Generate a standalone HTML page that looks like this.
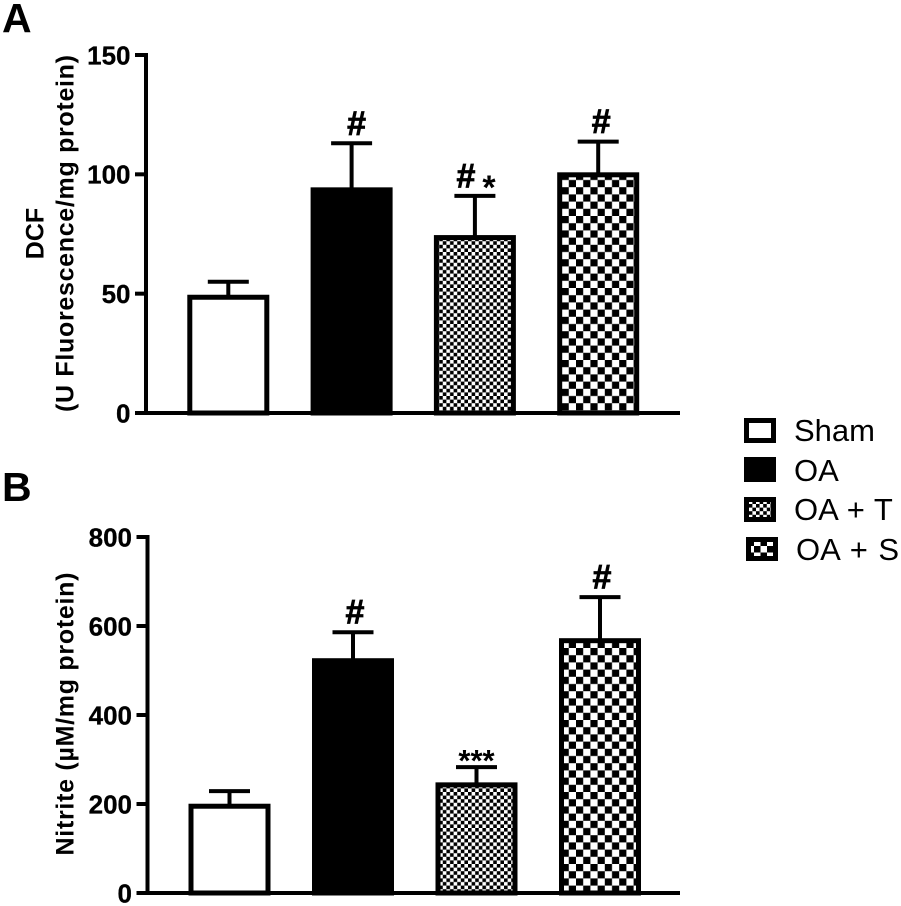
<!DOCTYPE html>
<html>
<head>
<meta charset="utf-8">
<style>
html,body{margin:0;padding:0;background:#fff;}
svg{display:block;}
text{font-family:"Liberation Sans",sans-serif;fill:#000;}
</style>
</head>
<body>
<svg id="figure" xmlns="http://www.w3.org/2000/svg" width="901" height="906" viewBox="0 0 901 906">
  <defs>
    <pattern id="fine" patternUnits="userSpaceOnUse" width="7.2" height="7.2">
      <rect width="7.2" height="7.2" fill="#fff"/>
      <rect width="3.6" height="3.6" fill="#000"/>
      <rect x="3.6" y="3.6" width="3.6" height="3.6" fill="#000"/>
    </pattern>
    <pattern id="coarse" patternUnits="userSpaceOnUse" width="14.4" height="14.4">
      <rect width="14.4" height="14.4" fill="#fff"/>
      <rect width="7.2" height="7.2" fill="#000"/>
      <rect x="7.2" y="7.2" width="7.2" height="7.2" fill="#000"/>
    </pattern>
    <pattern id="legend-coarse" patternUnits="userSpaceOnUse" width="13" height="13">
      <rect width="13" height="13" fill="#fff"/>
      <rect width="6.5" height="6.5" fill="#000"/>
      <rect x="6.5" y="6.5" width="6.5" height="6.5" fill="#000"/>
    </pattern>
  </defs>
  <g id="chart-a"></g>
  <g id="chart-b"></g>

  <text x="2" y="32" font-size="41" font-weight="bold">A</text>
  <text x="2" y="501" font-size="41" font-weight="bold">B</text>

  <text transform="translate(43.3,233.5) rotate(-90)" font-size="25" font-weight="bold" text-anchor="middle">DCF</text>
  <text transform="translate(73.3,233.5) rotate(-90)" font-size="25" font-weight="bold" text-anchor="middle" textLength="357" lengthAdjust="spacing">(U Fluorescence/mg protein)</text>
  <text transform="translate(73.3,714) rotate(-90)" font-size="25" font-weight="bold" text-anchor="middle" textLength="283" lengthAdjust="spacing">Nitrite (µM/mg protein)</text>

  <g>
    <g>
      <rect x="746.5" y="420.5" width="27" height="20" fill="#fff" stroke="#000" stroke-width="5"/>
      <text x="794" y="441" font-size="31">Sham</text>
    </g>
    <g>
      <rect x="744" y="457" width="32" height="25" fill="#000"/>
      <text x="794" y="481" font-size="31">OA</text>
    </g>
    <g>
      <rect x="746.5" y="499.5" width="27" height="20" fill="url(#fine)" stroke="#000" stroke-width="5"/>
      <text x="794" y="520" font-size="31" word-spacing="1">OA + T</text>
    </g>
    <g>
      <rect x="748.5" y="539.5" width="27" height="19" fill="url(#legend-coarse)" stroke="#000" stroke-width="5"/>
      <text x="796" y="560" font-size="31" word-spacing="2">OA + S</text>
    </g>
  </g>
</svg>
<script>
var categories = ['Sham', 'OA', 'OA + T', 'OA + S'];
var fills = ['#fff', '#000', 'url(#fine)', 'url(#coarse)'];

var ticksA = [0, 50, 100, 150];
var valuesA = [48.5, 93.5, 73.5, 99.8];
var errorsA = [55, 113, 91, 113.7];
var marksA = ['', '#', '#', '#'];

var ticksB = [0, 200, 400, 600, 800];
var valuesB = [195, 522, 243, 567];
var errorsB = [229, 586, 283, 665];
var marksB = ['', '#', '***', '#'];

var NS = 'http://www.w3.org/2000/svg';

function mk(parent, tag, attrs, text) {
  var el = document.createElementNS(NS, tag);
  for (var k in attrs) el.setAttribute(k, attrs[k]);
  if (text !== undefined) el.textContent = text;
  parent.appendChild(el);
  return el;
}

function drawChart(cfg) {
  var g = document.getElementById(cfg.id);
  var max = cfg.ticks[cfg.ticks.length - 1];
  function y(v) { return cfg.y0 - (v / max) * (cfg.y0 - cfg.yTop); }
  function xc(i) { return cfg.firstCenter + i * cfg.step; }

  cfg.values.forEach(function (v, i) {
    var cx = xc(i), half = cfg.barWidth / 2, top = y(v), errTop = y(cfg.errors[i]);
    var errStem = mk(g, 'line', {x1: cx, x2: cx, y1: top, y2: errTop, stroke: '#000', 'stroke-width': 4});
    
    
    var errCap = mk(g, 'line', {x1: cx - 20.5, x2: cx + 20.5, y1: errTop, y2: errTop, stroke: '#000', 'stroke-width': 4});
    
    
    var bar = mk(g, 'rect', {x: cx - half, y: top, width: cfg.barWidth, height: cfg.y0 - top, fill: fills[i], stroke: '#000', 'stroke-width': 5});
    
    
    if (cfg.marks[i]) {
      var isStar = cfg.marks[i] === '***';
      var mark = mk(g, 'text', {x: cx + (isStar ? 0 : cfg.markShift[i]), y: errTop + (isStar ? 4 : -8.5), 'font-size': isStar ? 31 : 34, 'font-weight': 'bold', 'text-anchor': 'middle', stroke: '#000', 'stroke-width': isStar ? 0 : 0.8}, cfg.marks[i]);
      
      
    }
  });

  var yAxis = mk(g, 'line', {x1: cfg.axisX, x2: cfg.axisX, y1: cfg.yTop - 2, y2: cfg.y0 + 2, stroke: '#000', 'stroke-width': 4});
  
  
  var xAxis = mk(g, 'line', {x1: cfg.axisX - 11, x2: cfg.xEnd, y1: cfg.y0, y2: cfg.y0, stroke: '#000', 'stroke-width': 4});
  
  

  cfg.ticks.forEach(function (t) {
    var tick = mk(g, 'line', {x1: cfg.axisX - 11, x2: cfg.axisX, y1: y(t), y2: y(t), stroke: '#000', 'stroke-width': 4});
    
    
    var label = mk(g, 'text', {x: cfg.axisX - 15.5, y: y(t) + 9.3, 'font-size': 26, 'font-weight': 'bold', 'text-anchor': 'end', stroke: '#000', 'stroke-width': 0.3}, String(t));
    
    
  });
}

drawChart({id: 'chart-a', prefix: 'panel-a', ticks: ticksA, values: valuesA, errors: errorsA, marks: marksA, markShift: [0, 5, -9, 3],
  y0: 413, yTop: 55, axisX: 146, xEnd: 680, firstCenter: 228.3, step: 123.3, barWidth: 77});
drawChart({id: 'chart-b', prefix: 'panel-b', ticks: ticksB, values: valuesB, errors: errorsB, marks: marksB, markShift: [0, 2, 0, 2],
  y0: 893, yTop: 537, axisX: 147.5, xEnd: 680, firstCenter: 229.5, step: 123.5, barWidth: 77});

var star = mk(document.getElementById('chart-a'), 'text', {x: 489, y: 199, 'font-size': 34, 'font-weight': 'bold', 'text-anchor': 'middle'}, '*');


</script>
</body>
</html>
